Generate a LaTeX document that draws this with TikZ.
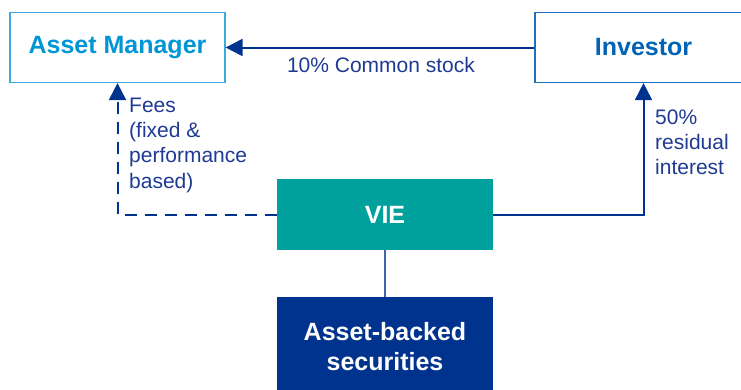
\documentclass[tikz,border=0pt]{standalone}
\usepackage{fontspec}
\setmainfont{Liberation Sans}
\usetikzlibrary{arrows.meta}
\definecolor{amblue}{HTML}{0096D6}
\definecolor{amborder}{HTML}{3FA9E0}
\definecolor{invblue}{HTML}{0063B5}
\definecolor{invborder}{HTML}{1F6FC0}
\definecolor{arrowblue}{HTML}{00338D}
\definecolor{labelblue}{HTML}{1F3A93}
\definecolor{vieteal}{HTML}{00A19C}
\definecolor{absblue}{HTML}{00338D}
\tikzset{
  boxtext/.style={font=\fontsize{25}{30}\selectfont\bfseries, align=center},
  lbl/.style={font=\fontsize{21}{25.3}\selectfont, text=labelblue, inner sep=0pt, align=left},
  conn/.style={draw=arrowblue, line width=2pt},
  tip/.style={-{Triangle[length=17pt,width=17pt]}},
}
\begin{document}
\begin{tikzpicture}[x=1pt,y=-1pt]
\useasboundingbox (0,0) rectangle (741,389);
\begin{scope}
\clip (0,0) rectangle (741,389);
\node[boxtext, draw=amborder, line width=1.2pt, text=amblue, minimum width=215pt, minimum height=70pt, inner sep=0pt] (am) at (117.5,47.5) {Asset Manager};
\node[boxtext, draw=invborder, line width=1.2pt, text=invblue, minimum width=217pt, minimum height=70pt, inner sep=0pt] (inv) at (643.5,47.5) {Investor};
\node[boxtext, fill=vieteal, text=white, minimum width=216pt, minimum height=71pt, inner sep=0pt] (vie) at (385,214.5) {VIE};
\node[boxtext, fill=absblue, text=white, minimum width=216pt, minimum height=100pt, inner sep=0pt] (abs) at (385,347) {Asset-backed\\securities};
\end{scope}
\draw[conn, tip] (inv.west) -- (am.east);
\node[lbl, anchor=base] (cs) at (381,72) {10\% Common stock};
\coordinate (fc) at (am.south |- vie.west);
\draw[conn, tip, dash pattern=on 12pt off 8pt] (vie.west) -- (fc) -- (am.south);
\node[lbl, anchor=north west] (fees) at (129,97.5) {Fees\\(fixed \&\\performance\\based)};
\coordinate (ic) at (inv.south |- vie.east);
\draw[conn, tip] (vie.east) -- (ic) -- (inv.south);
\node[lbl, anchor=north west] (res) at (655,109.5) {50\%\\residual\\interest};
\draw[draw=arrowblue!75, line width=1.5pt] (vie.south) -- (abs.north);
\end{tikzpicture}
\end{document}
